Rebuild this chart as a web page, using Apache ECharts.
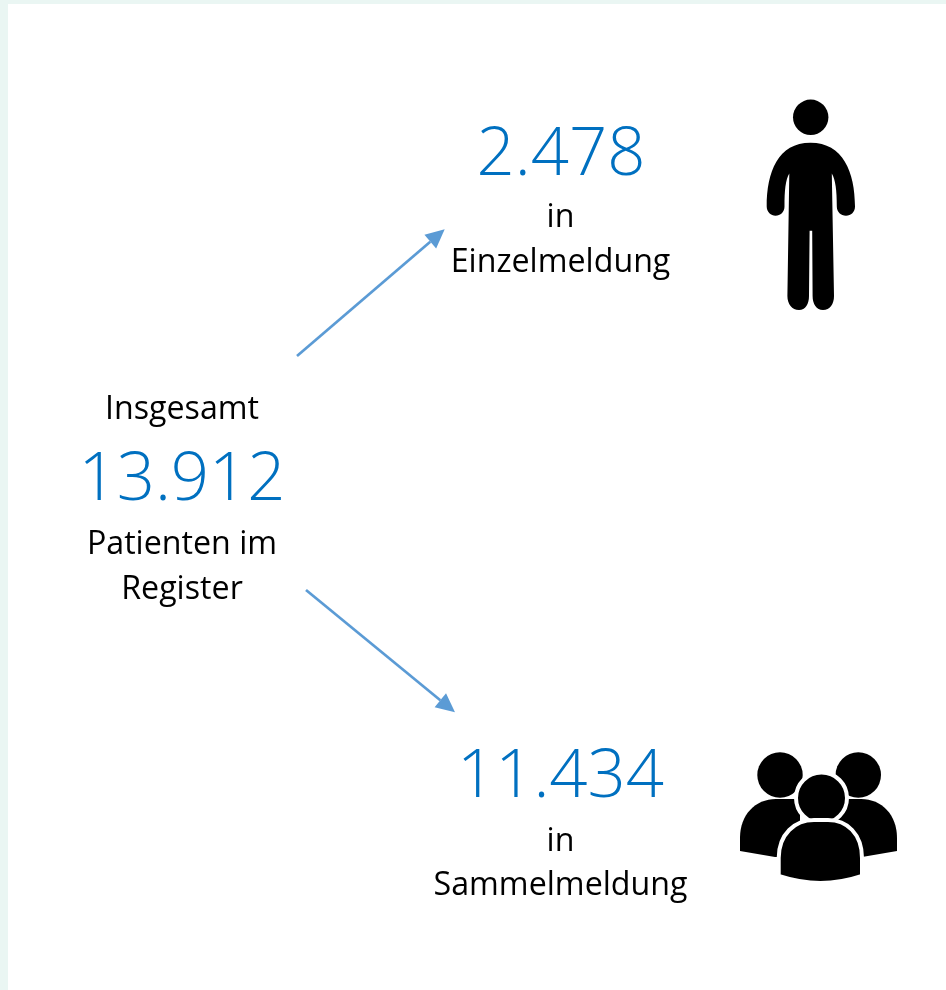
<!DOCTYPE html>
<html>
<head>
<meta charset="utf-8">
<script src="https://cdn.jsdelivr.net/npm/echarts@6/dist/echarts.min.js"></script>
<style>
html,body{margin:0;padding:0;background:#EAF6F3}
#chart{width:946px;height:990px}
</style>
</head>
<body>
<div id="chart"></div>
<script>
var groupNames = ['Insgesamt', 'Einzelmeldung', 'Sammelmeldung'];
var groupValues = [13912, 2478, 11434];
var captionsBelow = [['Patienten im', 'Register'], ['in', 'Einzelmeldung'], ['in', 'Sammelmeldung']];

var BLUE = '#0070C0', ARROW = '#5B9BD5';
var FONT = '"Open Sans", "Noto Sans", sans-serif';

function fmt(v) {
    return String(v).replace(/\B(?=(\d{3})+$)/g, '.');
}
function bigText(s, cx, cy) {
    return {type: 'text', x: cx, y: cy, style: {text: s, fill: BLUE, font: '300 67px ' + FONT, align: 'center', verticalAlign: 'middle'}};
}
function smallText(s, cx, cy) {
    return {type: 'text', x: cx, y: cy, style: {text: s, fill: '#000', font: '400 32.2px ' + FONT, align: 'center', verticalAlign: 'middle'}};
}
function arrow(x1, y1, x2, y2) {
    var a = Math.atan2(y2 - y1, x2 - x1), len = 19, w = 9;
    var bx = x2 - Math.cos(a) * len, by = y2 - Math.sin(a) * len;
    var nx = -Math.sin(a) * w, ny = Math.cos(a) * w;
    return [
        {type: 'line', shape: {x1: x1, y1: y1, x2: bx, y2: by}, style: {stroke: ARROW, lineWidth: 2.7}},
        {type: 'polygon', shape: {points: [[x2, y2], [bx + nx, by + ny], [bx - nx, by - ny]]}, style: {fill: ARROW}}
    ];
}
// graphic has no plain 'path' type, so each icon outline gets registered as its own shape
function path(name, d, extra) {
    echarts.graphic.registerShape(name, echarts.graphic.extendPath(d, {}));
    return {type: name, style: Object.assign({fill: '#000'}, extra || {})};
}
function circle(cx, cy, r, extra) {
    return {type: 'circle', shape: {cx: cx, cy: cy, r: r}, style: Object.assign({fill: '#000'}, extra || {})};
}

var person = [
    circle(810.7, 117.3, 17.7),
    path('personBody', 'M810.5 142.7 C778 142.7 766.7 172 766.7 206.5 C766.7 212 771 215.7 775.5 215.7 C780.5 215.7 784.5 212 784.5 206.5 C784.5 190 785.5 180 789.3 173.5 L787.4 296 C787.4 304 792 310 799 310 C805.5 310 809 304 809 296 L809.6 230.7 L812.2 230.7 L812.6 296 C812.6 304 816.5 310 823 310 C830 310 834 304 834 296 L831.8 173.5 C835.5 180 836.8 190 836.8 206.5 C836.8 212 841 215.7 846 215.7 C851 215.7 855 212 855 206.5 C855 172 843 142.7 810.5 142.7 Z')
];

var people = [
    circle(780, 775, 22.7),
    circle(858.3, 775, 22.7),
    path('bodyLeft', 'M740 851 L740 838 C740 815 755 799 776 799 L800 799 L800 857 L775 857 Z'),
    path('bodyRight', 'M897 851 L897 838 C897 815 882 799 861 799 L837 799 L837 857 L862 857 Z'),
    circle(821.5, 798, 25.5, {stroke: '#fff', lineWidth: 4}),
    path('bodyFront', 'M778.7 876 L778.7 858 C778.7 834 795 820 814 820 L828 820 C847 820 862 834 862 858 L862 876 C850 880 835 883 820.5 883 C806 883 791 880 778.7 876 Z', {stroke: '#fff', lineWidth: 4})
];

var elements = [
    {type: 'rect', shape: {x: 8, y: 4, width: 938, height: 986}, style: {fill: '#fff'}},
    smallText(groupNames[0], 182, 410),
    bigText(fmt(groupValues[0]), 182, 481),
    smallText(captionsBelow[0][0], 182, 545),
    smallText(captionsBelow[0][1], 182, 590),
    bigText(fmt(groupValues[1]), 561, 156),
    smallText(captionsBelow[1][0], 560.5, 218),
    smallText(captionsBelow[1][1], 560.5, 263),
    bigText(fmt(groupValues[2]), 560.5, 778),
    smallText(captionsBelow[2][0], 560.5, 842),
    smallText(captionsBelow[2][1], 560.5, 886)
].concat(arrow(297, 356, 444.7, 229.3), arrow(306, 590, 455, 712.3), person, people);

var chart = echarts.init(document.getElementById('chart'));
chart.setOption({
    animation: false,
    backgroundColor: '#EAF6F3',
    graphic: {elements: elements}
});
</script>
</body>
</html>
